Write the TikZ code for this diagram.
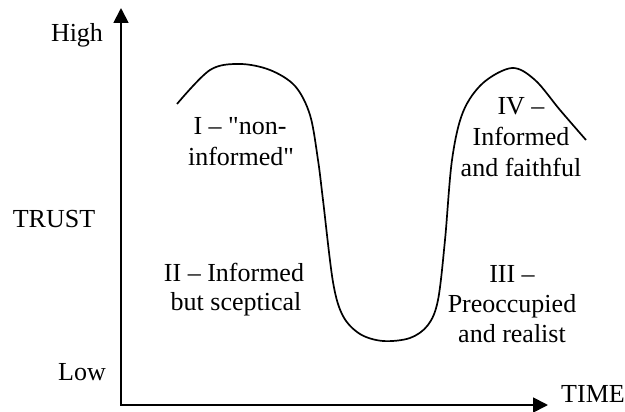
\documentclass[tikz,border=0pt]{standalone}
\usepackage{fontspec}
\setmainfont{Liberation Serif}[Ligatures=TeXOff]
\usetikzlibrary{arrows.meta}
\begin{document}
\begin{tikzpicture}[x=1pt,y=-1pt,
  axis/.style={line width=1.8pt,-{Triangle[length=15pt,width=15pt]}},
  curve/.style={line width=1.7pt,line join=round},
  lbl/.style={font=\fontsize{26}{30}\selectfont,anchor=base,inner sep=0pt}]
\useasboundingbox (0,0) rectangle (625,412);
\coordinate (O) at (121,405);
\coordinate (Ytop) at (121,8);
\coordinate (Xend) at (548,405);
\draw[axis] ([yshift=-0.9pt]O) -- (Ytop);
\draw[axis] ([xshift=-0.9pt]O) -- (Xend);
\draw[curve] plot[smooth,tension=0.55] coordinates {
 (177,104) (210,70) (240,64) (270,70) (295,86) (310,115) (318,160) (323,200)
 (333,282) (343,316) (360,334) (383,341) (410,338) (428,325) (438,300) (445,240)
 (452,160) (463,112) (483,83) (512,68) (535,80) (560,110) (586,140)};
\node[lbl] (high) at (77,42) {High};
\node[lbl] (trust) at (54,227) {TRUST};
\node[lbl] (low) at (82,380) {Low};
\node[lbl] (time) at (593,402) {TIME};
\node[lbl] (q1a) at (240,135) {I – "non-};
\node[lbl] (q1b) at (241,165) {informed"};
\node[lbl] (q2a) at (234,281) {II – Informed};
\node[lbl] (q2b) at (236,310) {but sceptical};
\node[lbl] (q3a) at (512,282) {III –};
\node[lbl] (q3b) at (512,312) {Preoccupied};
\node[lbl] (q3c) at (512,342) {and realist};
\node[lbl] (q4a) at (521,115) {IV –};
\node[lbl] (q4b) at (521,146) {Informed};
\node[lbl] (q4c) at (521,176) {and faithful};
\end{tikzpicture}
\end{document}
